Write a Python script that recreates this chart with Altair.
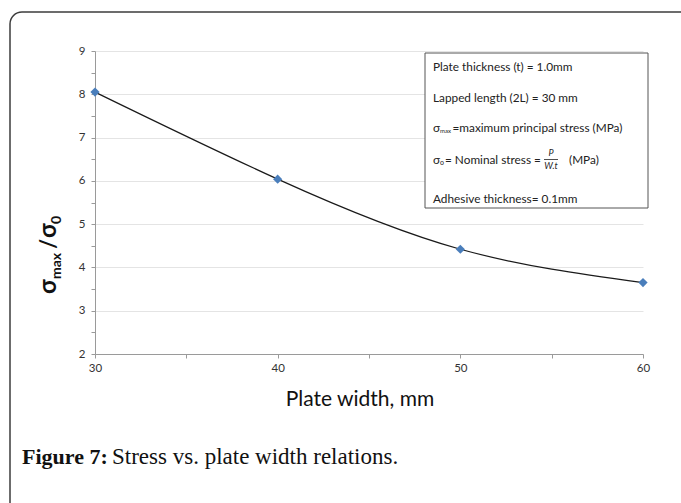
import altair as alt
import pandas as pd

# ---- data ----
plate_width = [30, 40, 50, 60]
stress_ratio = [8.05, 6.04, 4.42, 3.65]

x_tick_values = [30, 35, 40, 45, 50, 55, 60]
y_tick_values = [2, 2.5, 3, 3.5, 4, 4.5, 5, 5.5, 6, 6.5, 7, 7.5, 8, 8.5, 9]

# ---- layout ----
OX, OY = 95, 51          # plot-area origin in page pixels
W, H = 548, 303          # plot-area size

df = pd.DataFrame({"w": plate_width, "r": stress_ratio})
one = alt.Data(values=[{"a": 1}])


def px(x):
    return x - OX


def py(y):
    return y - OY


def txt(s, x, y, size=11.8, weight="normal", font="Lato", align="left",
        angle=0, baseline="middle", color="#222222", style="normal"):
    return alt.Chart(one).mark_text(
        text=s, fontSize=size, fontWeight=weight, font=font, align=align,
        angle=angle, baseline=baseline, color=color, fontStyle=style,
    ).encode(x=alt.value(px(x)), y=alt.value(py(y)))


x_enc = alt.X(
    "w:Q",
    scale=alt.Scale(domain=[30, 60], nice=False),
    axis=alt.Axis(
        values=x_tick_values,
        labelExpr="datum.value % 10 == 0 ? datum.value : ''",
        grid=False, title=None, labelFlush=False,
        domainColor="#9a9a9a", tickColor="#9a9a9a", tickSize=4,
        labelFont="Lato", labelFontSize=11.5, labelColor="#333333",
        labelPadding=4,
    ),
)
y_enc = alt.Y(
    "r:Q",
    scale=alt.Scale(domain=[2, 9], nice=False),
    axis=alt.Axis(
        values=y_tick_values,
        labelExpr="datum.value % 1 == 0 ? datum.value : ''",
        grid=True, gridColor="#e4e4e4",
        gridOpacity={"condition": {"test": "datum.value % 1 === 0", "value": 1}, "value": 0},
        title=None,
        domainColor="#9a9a9a", tickColor="#9a9a9a", tickSize=4,
        labelFont="Lato", labelFontSize=11.5, labelColor="#333333",
        labelPadding=6,
    ),
)

frame = alt.Chart(one).mark_rect(
    fill="white", fillOpacity=0, stroke="#3c3c3c", strokeWidth=1.5, cornerRadius=12
).encode(x=alt.value(px(10)), x2=alt.value(px(730)),
         y=alt.value(py(12)), y2=alt.value(py(560)))

line = alt.Chart(df).mark_line(
    interpolate="natural", color="#1a1a1a", strokeWidth=1.2
).encode(x=x_enc, y=y_enc)

points = alt.Chart(df).mark_point(
    shape="diamond", filled=True, size=85, color="#4a7ebb", opacity=1
).encode(x=x_enc, y=y_enc)

box = alt.Chart(one).mark_rect(
    fill="white", stroke="#555555", strokeWidth=1
).encode(x=alt.value(px(425)), x2=alt.value(px(648)),
         y=alt.value(py(53)), y2=alt.value(py(208)))

frac_line = alt.Chart(one).mark_rule(color="#222222", strokeWidth=0.8).encode(
    x=alt.value(px(544)), x2=alt.value(px(558)), y=alt.value(py(159.5)))

texts = [
    txt("Plate thickness (t) = 1.0mm", 433, 67),
    txt("Lapped length (2L) = 30 mm", 433, 98),
    txt("σ", 433, 128),
    txt("max", 440, 131, size=6),
    txt("=maximum principal stress (MPa)", 452.5, 128),
    txt("σ", 433, 160),
    txt("o", 440, 163, size=7),
    txt("= Nominal stress =", 445, 160),
    txt("P", 551, 153, size=9, align="center", style="italic"),
    txt("W.t", 551, 166, size=9, align="center", style="italic"),
    txt("(MPa)", 569, 160),
    txt("Adhesive thickness= 0.1mm", 433, 199),
    # y-axis title pieces (rotated)
    txt("σ", 56, 294, size=24, weight="bold", angle=270, baseline="alphabetic", color="#111111"),
    txt("max", 61, 279, size=14, weight="bold", angle=270, baseline="alphabetic", color="#111111"),
    txt("/", 56, 249, size=22, weight="bold", angle=270, baseline="alphabetic", color="#111111"),
    txt("σ", 56, 238, size=24, weight="bold", angle=270, baseline="alphabetic", color="#111111"),
    txt("0", 61, 224, size=14, weight="bold", angle=270, baseline="alphabetic", color="#111111"),
    # x-axis title
    txt("Plate width, mm", 360, 400, size=21, align="center", color="#111111"),
    # caption
    txt("Figure 7:", 22, 457, size=22, weight="bold", font="Liberation Serif", color="#111111"),
    txt("Stress vs. plate width relations.", 112, 457, size=23, font="Liberation Serif", color="#111111"),
]

chart = alt.layer(frame, line, points, box, frac_line, *texts).properties(
    width=W, height=H,
    padding={"left": OX, "top": OY, "right": 681 - OX - W, "bottom": 503 - OY - H},
    autosize=alt.AutoSizeParams(type="none"),
).configure_view(stroke="transparent")

chart.save("out.html", embed_options={"renderer": "svg", "actions": False})
